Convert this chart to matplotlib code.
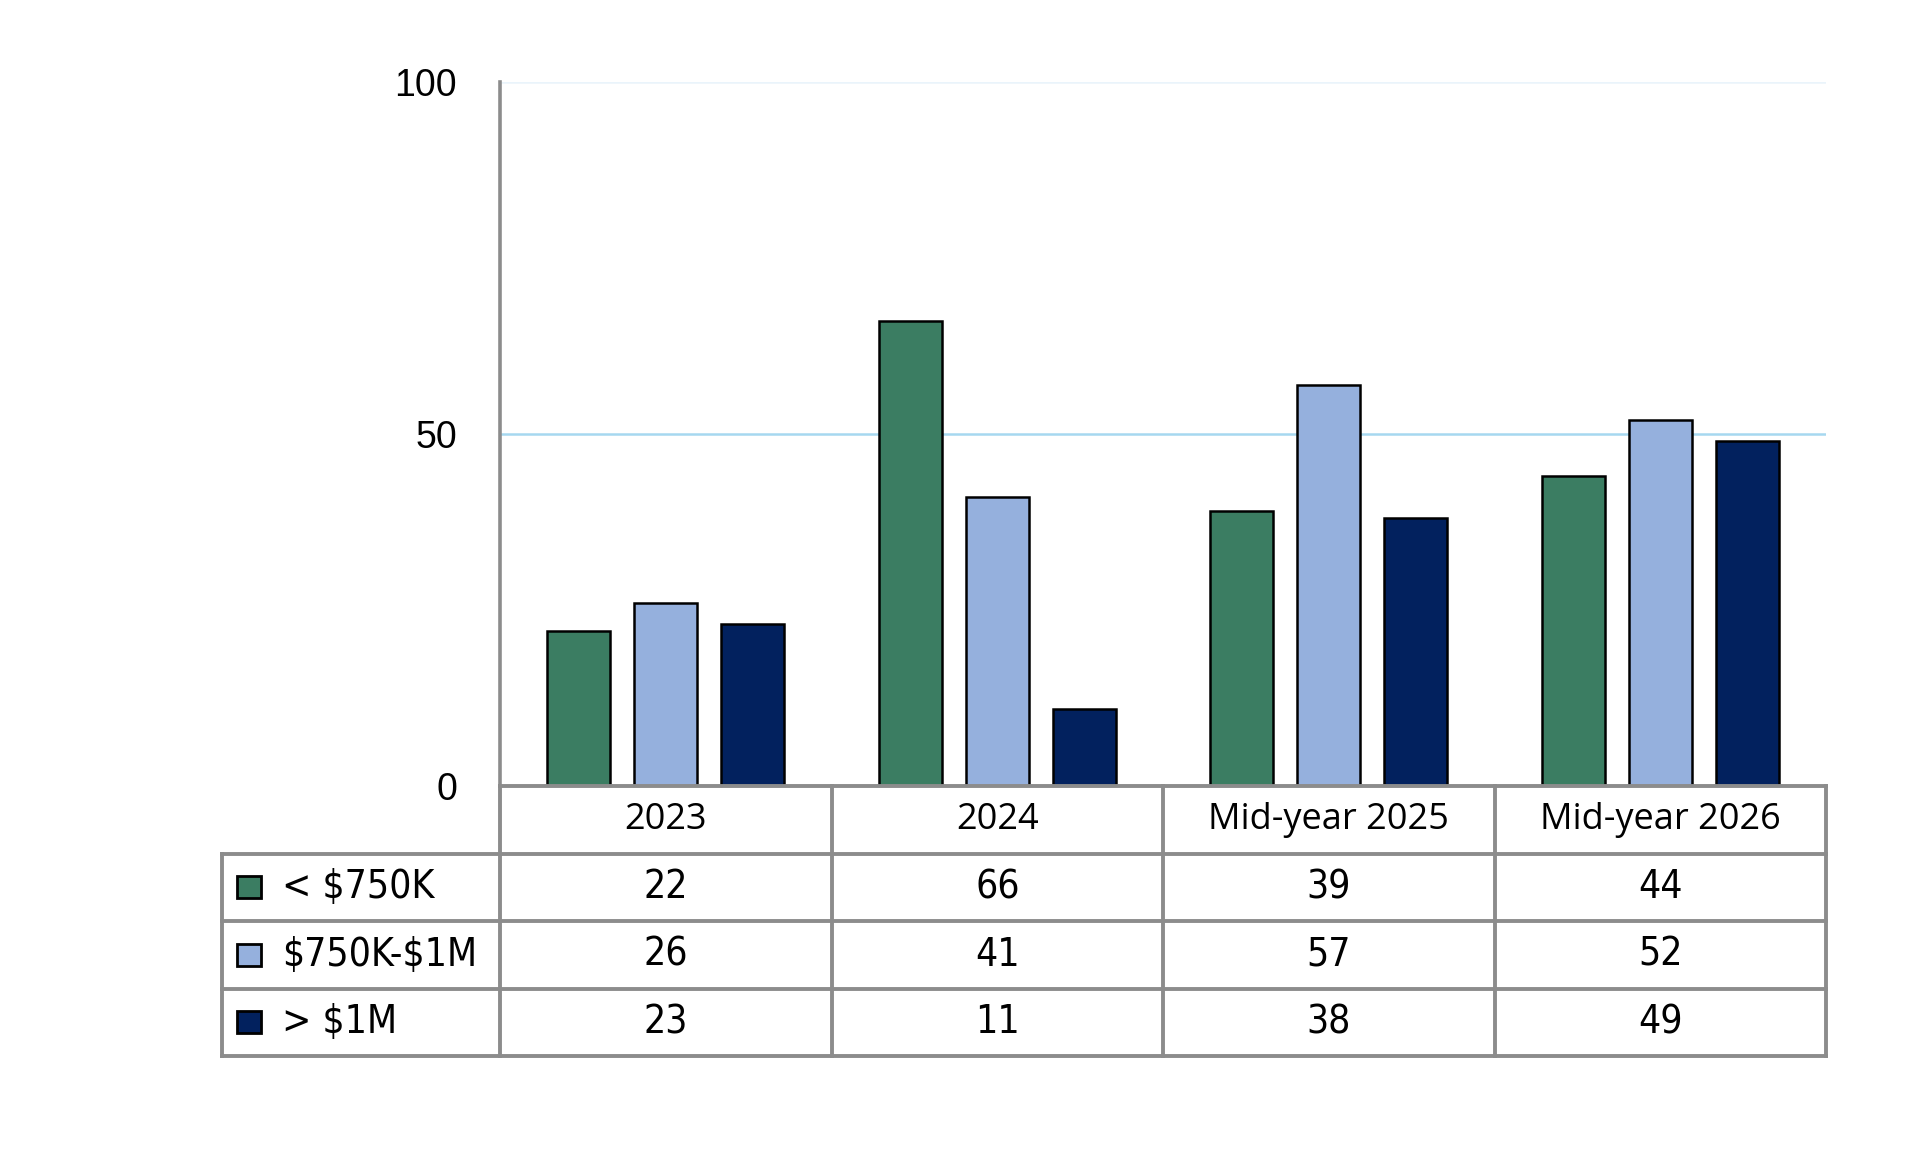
import numpy as np
import matplotlib
matplotlib.use("Agg")
import matplotlib.pyplot as plt
from matplotlib.patches import Rectangle

plt.rcParams["text.parse_math"] = False

# data
categories = ["2023", "2024", "Mid-year 2025", "Mid-year 2026"]
series_names = ["< $750K", "$750K-$1M", "> $1M"]
under_750k = [22, 66, 39, 44]
mid_750k_1m = [26, 41, 57, 52]
over_1m = [23, 11, 38, 49]
series_values = [under_750k, mid_750k_1m, over_1m]
colors = ["#3B7D62", "#95B0DD", "#02215E"]
y_ticks = [0, 50, 100]

W, H = 1920, 1173
fig = plt.figure(figsize=(W / 100, H / 100), dpi=100)

grey = "#8C8C8C"
font_tick = "Liberation Sans"

# pixel layout
ax_left, ax_right, ax_top, ax_bottom = 500, 1826, 82, 786
tab_left, tab_bottom = 222, 1056

ax = fig.add_axes([ax_left / W, 1 - ax_bottom / H, (ax_right - ax_left) / W, (ax_bottom - ax_top) / H])
n = len(categories)
x = np.arange(n)
offset = 0.262
width = 0.19
for k, (vals, col) in enumerate(zip(series_values, colors)):
    ax.bar(x + (k - 1) * offset, vals, width, color=col, edgecolor="black", linewidth=1.8, zorder=3)

ax.set_xlim(-0.5, n - 0.5)
ax.set_ylim(0, 100)
ax.set_yticks(y_ticks)
ax.set_yticklabels([str(t) for t in y_ticks], fontsize=27, family=font_tick)
ax.tick_params(axis="y", length=0, pad=31)
ax.set_xticks([])
ax.axhline(50, color="#A6D8F0", lw=1.8, zorder=1)
ax.axhline(100, color="#EAF4FB", lw=1.8, zorder=1)
for s in ["top", "right", "bottom"]:
    ax.spines[s].set_visible(False)
ax.spines["left"].set_color(grey)
ax.spines["left"].set_linewidth(2.6)

# data table under the plot
tab = fig.add_axes([tab_left / W, 1 - tab_bottom / H, (ax_right - tab_left) / W, (tab_bottom - ax_bottom) / H])
col_w = (ax_right - ax_left) / n
x0 = -0.5 - (ax_left - tab_left) / col_w
tab.set_xlim(x0, n - 0.5)
tab.set_ylim(4, 0)
tab.axis("off")

lw = 2.8
# horizontal lines
tab.plot([-0.5, n - 0.5], [0, 0], color=grey, lw=lw, clip_on=False, solid_capstyle="projecting")
for r in range(1, 5):
    tab.plot([x0, n - 0.5], [r, r], color=grey, lw=lw, clip_on=False, solid_capstyle="projecting")
# vertical lines
for c in range(n + 1):
    tab.plot([c - 0.5, c - 0.5], [0, 4], color=grey, lw=lw, clip_on=False, solid_capstyle="projecting")
tab.plot([x0, x0], [1, 4], color=grey, lw=lw, clip_on=False, solid_capstyle="projecting")

for c, name in enumerate(categories):
    tab.text(c, 0.5, name, ha="center", va="center", fontsize=26, family="Open Sans")

sq_w = 24 / col_w
for r, (name, vals, col) in enumerate(zip(series_names, series_values, colors)):
    yc = r + 1.5
    tab.add_patch(Rectangle((x0 + 15 / col_w, yc - 0.16), sq_w, 0.32, facecolor=col,
                            edgecolor="black", lw=2, clip_on=False))
    tab.text(x0 + 60 / col_w, yc, name, ha="left", va="center", fontsize=28,
             family="DejaVu Sans", stretch="condensed")
    for c, v in enumerate(vals):
        tab.text(c, yc, str(v), ha="center", va="center", fontsize=28,
                 family="DejaVu Sans", stretch="condensed")

fig.savefig("out.png", dpi=100)
